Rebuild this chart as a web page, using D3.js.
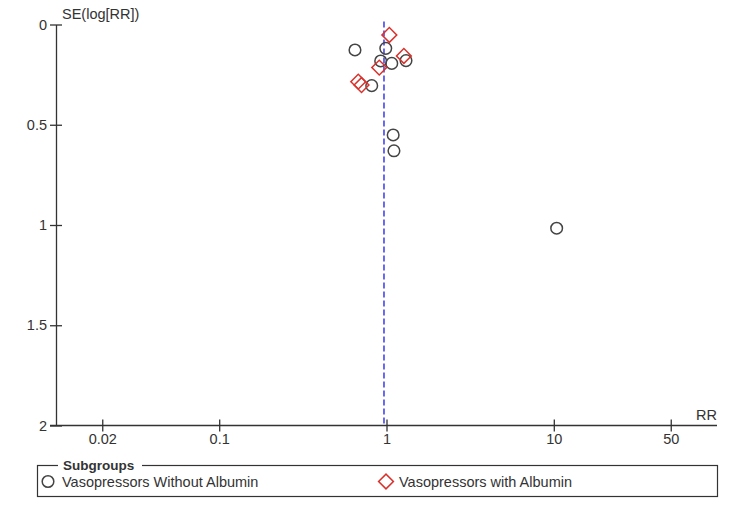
<!DOCTYPE html>
<html>
<head>
<meta charset="utf-8">
<script src="https://cdn.jsdelivr.net/npm/d3@7"></script>
<style>
  body { margin: 0; background: #fff; }
  svg { font-family: 'Liberation Sans', Arial, sans-serif; }
</style>
</head>
<body>
<svg id="chart" width="750" height="511"></svg>
<script>
// study estimates
const withoutRR = [0.648, 0.99, 0.923, 1.075, 1.308, 0.816, 1.096, 1.108, 10.4];
const withoutSE = [0.127, 0.119, 0.182, 0.194, 0.18, 0.305, 0.551, 0.63, 1.016];
const withRR = [1.04, 1.27, 0.905, 0.678, 0.709];
const withSE = [0.052, 0.157, 0.215, 0.285, 0.302];
const pooledRR = 0.966;
const xTicks = [0.02, 0.1, 1, 10, 50];
const yTicks = [0, 0.5, 1, 1.5, 2];
const subgroups = ['Vasopressors Without Albumin', 'Vasopressors with Albumin'];

const w = 750;
const h = 511;
const plot = { left: 56, right: 717, top: 24.5, bottom: 425.5 };
const axisColor = '#333';
const red = '#d9312b';
const fontSize = '14.5px';

const svg = d3.select('#chart');

const xScale = d3.scaleLog()
  .domain([1 / 94.5, 94.5])
  .range([plot.left, plot.right]);
const yScale = d3.scaleLinear()
  .domain([0, 2])
  .range([plot.top, plot.bottom]);

// y axis
const yAxis = svg.append('g')
  .attr('transform', `translate(${plot.left},0)`)
  .call(d3.axisLeft(yScale).tickValues(yTicks).tickSizeInner(6).tickSizeOuter(0).tickFormat(d3.format('')));
yAxis.select('.domain').attr('stroke', axisColor).attr('stroke-width', 1.3);
yAxis.selectAll('.tick line').attr('x2', 6).attr('x1', -6).attr('stroke', axisColor).attr('stroke-width', 1.3);
yAxis.selectAll('.tick text').attr('x', -9).attr('fill', axisColor).style('font-size', fontSize);

// x axis
const xAxis = svg.append('g')
  .attr('transform', `translate(0,${plot.bottom})`)
  .call(d3.axisBottom(xScale).tickValues(xTicks).tickSizeInner(6).tickSizeOuter(0).tickFormat(d3.format('')));
xAxis.select('.domain').attr('stroke', axisColor).attr('stroke-width', 1.3)
  .attr('d', `M${plot.left - 6},0H${plot.right}`);
xAxis.selectAll('.tick line').attr('y1', -6).attr('y2', 6).attr('stroke', axisColor).attr('stroke-width', 1.3);
xAxis.selectAll('.tick text').attr('y', 8).attr('fill', axisColor).style('font-size', fontSize);

svg.append('text')
  .attr('x', 62)
  .attr('y', 19)
  .attr('fill', axisColor)
  .style('font-size', fontSize)
  .text('SE(log[RR])');

svg.append('text')
  .attr('x', plot.right)
  .attr('y', plot.bottom - 6)
  .attr('text-anchor', 'end')
  .attr('fill', axisColor)
  .style('font-size', fontSize)
  .text('RR');

// pooled estimate
svg.append('line')
  .attr('x1', xScale(pooledRR))
  .attr('x2', xScale(pooledRR))
  .attr('y1', plot.top - 3)
  .attr('y2', plot.bottom)
  .attr('stroke', '#1a1aee')
  .attr('stroke-width', 1.3)
  .attr('stroke-dasharray', '6,3');

const diamond = d3.symbol().type(d3.symbolSquare).size(110);

svg.append('g').selectAll('circle')
  .data(withoutRR)
  .enter()
  .append('circle')
  .attr('cx', (d) => xScale(d))
  .attr('cy', (d, i) => yScale(withoutSE[i]))
  .attr('r', 5.8)
  .attr('fill', 'none')
  .attr('stroke', '#444')
  .attr('stroke-width', 1.5);

svg.append('g').selectAll('path')
  .data(withRR)
  .enter()
  .append('path')
  .attr('d', diamond)
  .attr('transform', (d, i) => `translate(${xScale(d)},${yScale(withSE[i])}) rotate(45)`)
  .attr('fill', 'none')
  .attr('stroke', red)
  .attr('stroke-width', 1.5);

// legend
const legend = svg.append('g');
legend.append('rect')
  .attr('x', 37.5)
  .attr('y', 465.5)
  .attr('width', 680)
  .attr('height', 31)
  .attr('fill', 'none')
  .attr('stroke', axisColor)
  .attr('stroke-width', 1.2);
legend.append('rect')
  .attr('x', 58)
  .attr('y', 460)
  .attr('width', 84)
  .attr('height', 10)
  .attr('fill', '#fff');
legend.append('text')
  .attr('x', 63)
  .attr('y', 470)
  .attr('fill', axisColor)
  .style('font-size', '13.5px')
  .style('font-weight', 'bold')
  .text('Subgroups');

legend.append('circle')
  .attr('cx', 48)
  .attr('cy', 481.5)
  .attr('r', 5.8)
  .attr('fill', 'none')
  .attr('stroke', '#444')
  .attr('stroke-width', 1.5);
legend.append('path')
  .attr('d', diamond)
  .attr('transform', 'translate(386,481.5) rotate(45)')
  .attr('fill', 'none')
  .attr('stroke', red)
  .attr('stroke-width', 1.5);

legend.selectAll('.legend-label')
  .data(subgroups)
  .enter()
  .append('text')
  .attr('class', 'legend-label')
  .attr('x', (d, i) => i === 0 ? 62 : 399)
  .attr('y', 487)
  .attr('fill', axisColor)
  .style('font-size', fontSize)
  .text((d) => d);
</script>
</body>
</html>
